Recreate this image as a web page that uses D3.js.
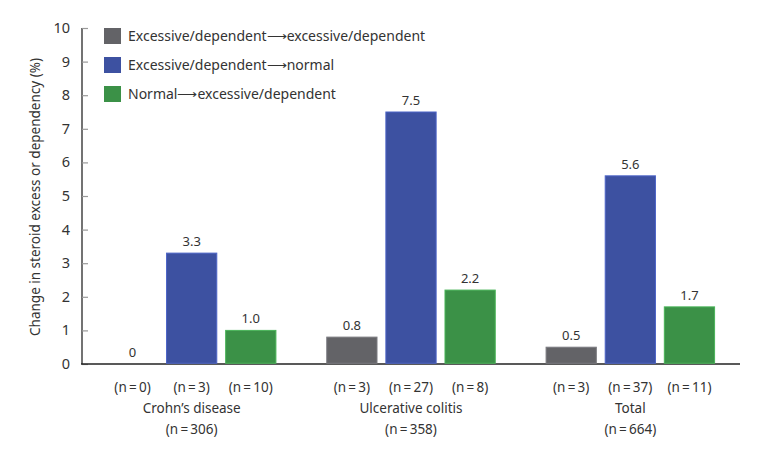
<!DOCTYPE html>
<html><head><meta charset="utf-8">
<script src="https://cdn.jsdelivr.net/npm/d3@7"></script>
<style>body{margin:0;background:#fff}svg{display:block}text{font-family:"Noto Sans",sans-serif;fill:#333}</style>
</head><body>
<svg id="c" width="758" height="452"></svg>
<script>
const groups = ["Crohn\u2019s disease", "Ulcerative colitis", "Total"];
const groupN = ["(n\u2009=\u2009306)", "(n\u2009=\u2009358)", "(n\u2009=\u2009664)"];
const seriesNames = ["Excessive/dependent\u27F6excessive/dependent", "Excessive/dependent\u27F6normal", "Normal\u27F6excessive/dependent"];
const seriesColors = ["#636367", "#3d51a1", "#3b9147"];
const values = [[0, 3.3, 1.0], [0.8, 7.5, 2.2], [0.5, 5.6, 1.7]];
const valueLabels = [["0", "3.3", "1.0"], ["0.8", "7.5", "2.2"], ["0.5", "5.6", "1.7"]];
const barN = [["0", "3", "10"], ["3", "27", "8"], ["3", "37", "11"]];
const yTicks = [0,1,2,3,4,5,6,7,8,9,10];

const svg = d3.select("#c");
const x0 = d3.scaleBand().domain(groups).range([82, 740]).padding(0);
const x1 = d3.scaleBand().domain([0,1,2]).range([0, x0.bandwidth()]).paddingInner(0.15).paddingOuter(0.43);
const y = d3.scaleLinear().domain([0, 10]).range([364, 28]);

// y axis
const ya = svg.append("g").attr("transform", "translate(82,0)")
  .call(d3.axisRight(y).tickValues(yTicks).tickSize(6).tickFormat(""));
ya.select(".domain").attr("stroke", "#444").attr("stroke-width", 1.5).attr("d", `M0,${y(10)}V${y(0)}`);
ya.selectAll(".tick line").attr("stroke", "#999").attr("stroke-width", 1.2);
svg.append("g").selectAll("text").data(yTicks).join("text")
  .attr("x", 70).attr("y", d => y(d)).attr("dy", "0.35em")
  .attr("text-anchor", "end").style("font-size", "14.5px").text(d => d);

// x baseline
svg.append("line").attr("x1", 81).attr("x2", 740).attr("y1", y(0)).attr("y2", y(0))
  .attr("stroke", "#222").attr("stroke-width", 1.5);

// bars
groups.forEach((g, gi) => {
  const gg = svg.append("g").attr("transform", `translate(${x0(g)},0)`);
  values[gi].forEach((v, si) => {
    if (v > 0) {
      gg.append("rect").attr("x", x1(si)).attr("width", x1.bandwidth())
        .attr("y", y(v)).attr("height", y(0) - y(v) - 0.75)
        .attr("fill", seriesColors[si]).attr("stroke", d3.color(seriesColors[si]).brighter(0.6)).attr("stroke-width", 1);
    }
    gg.append("text").attr("x", x1(si) + x1.bandwidth()/2).attr("y", y(v) - 7)
      .attr("text-anchor", "middle").style("font-size", "13px").text(valueLabels[gi][si]);
    gg.append("text").attr("x", x1(si) + x1.bandwidth()/2).attr("y", 387).attr("dy", "0.35em")
      .attr("text-anchor", "middle").style("font-size", "13.5px").text(`(n\u2009=\u2009${barN[gi][si]})`);
  });
  gg.append("text").attr("x", x0.bandwidth()/2).attr("y", 408).attr("dy", "0.35em")
    .attr("text-anchor", "middle").style("font-size", "13.5px").text(g);
  gg.append("text").attr("x", x0.bandwidth()/2).attr("y", 429).attr("dy", "0.35em")
    .attr("text-anchor", "middle").style("font-size", "13.5px").text(groupN[gi]);
});

// y title
svg.append("text").attr("transform", "translate(35,197) rotate(-90)")
  .attr("text-anchor", "middle").attr("dy", "0.35em").style("font-size", "13.5px")
  .text("Change in steroid excess or dependency (%)");

// legend
const lg = svg.append("g");
seriesNames.forEach((s, i) => {
  const cy = 36 + i * 29;
  lg.append("rect").attr("x", 104).attr("y", cy - 8).attr("width", 17).attr("height", 16).attr("fill", seriesColors[i]);
  lg.append("text").attr("x", 128).attr("y", cy).attr("dy", "0.35em").style("font-size", "14px").text(s);
});
</script>
</body></html>
